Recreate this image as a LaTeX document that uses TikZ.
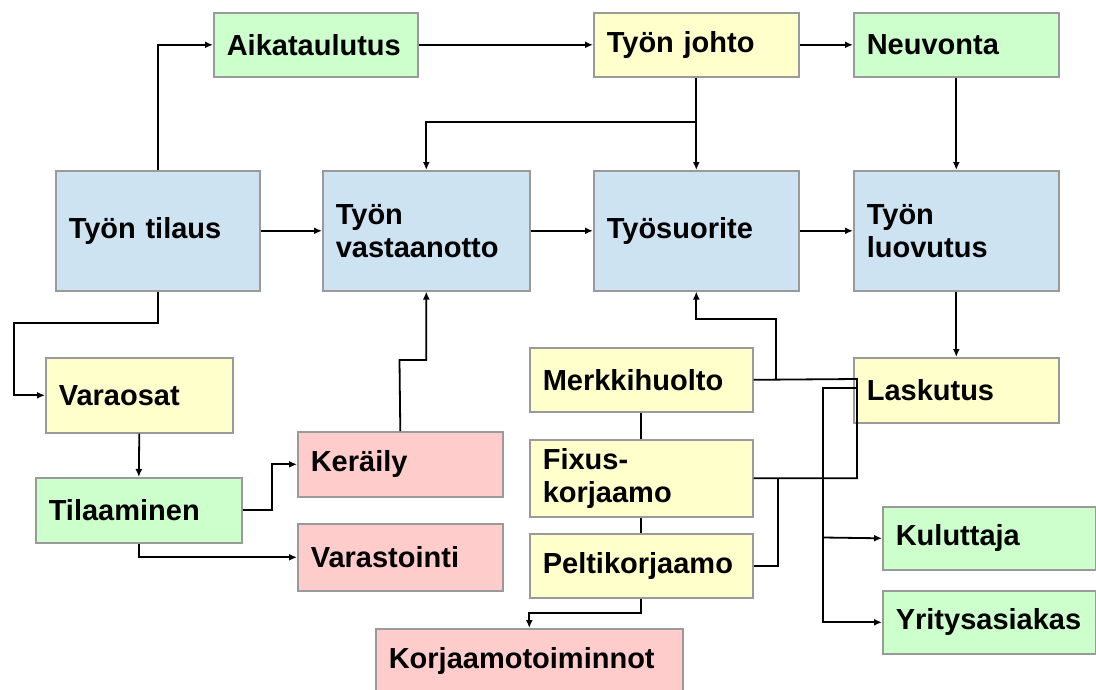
\documentclass[tikz,border=0pt]{standalone}
\usepackage{fontspec}
\setmainfont{Liberation Sans}
\usetikzlibrary{arrows.meta}
\definecolor{cblue}{HTML}{CDE3F2}
\definecolor{cgreen}{HTML}{CCFFCC}
\definecolor{cyellow}{HTML}{FFFFCC}
\definecolor{cpink}{HTML}{FFCCCC}
\definecolor{cborder}{HTML}{9A9A9A}
\begin{document}
\begin{tikzpicture}[x=1pt,y=-1pt,
  box/.style={draw=cborder, line width=1.6pt, anchor=north west, inner xsep=13pt, inner ysep=0pt,
    align=left, font=\fontsize{29}{33}\selectfont\bfseries},
  con/.style={line width=1.8pt, black},
  arr/.style={con, -{Latex[length=8pt,width=7pt]}}]
\useasboundingbox (0,0) rectangle (1096,689);
\clip (0,0) rectangle (1096,689);
% top row
\node[box, fill=cgreen, text width=178pt, minimum height=64pt] (aika) at (213,12) {Aikataulutus};
\node[box, fill=cyellow, text width=179pt, minimum height=64pt] (johto) at (593,12) {Työn johto};
\node[box, fill=cgreen, text width=179pt, minimum height=64pt] (neuv) at (853,12) {Neuvonta};
% main row
\node[box, fill=cblue, text width=178pt, minimum height=120pt] (tilaus) at (55,170) {Työn tilaus};
\node[box, fill=cblue, text width=181pt, minimum height=120pt] (vast) at (322,170) {Työn\\vastaanotto};
\node[box, fill=cblue, text width=179pt, minimum height=120pt] (suor) at (593,170) {Työsuorite};
\node[box, fill=cblue, text width=179pt, minimum height=120pt] (luov) at (853,170) {Työn\\luovutus};
% left column
\node[box, fill=cyellow, text width=161pt, minimum height=75pt] (vara) at (45,357) {Varaosat};
\node[box, fill=cgreen, text width=180pt, minimum height=65pt] (tilaa) at (35,477) {Tilaaminen};
\node[box, fill=cpink, text width=179pt, minimum height=65pt] (kera) at (297,431) {Keräily};
\node[box, fill=cpink, text width=179pt, minimum height=67pt] (varas) at (297,523) {Varastointi};
% middle column
\node[box, fill=cyellow, text width=197pt, minimum height=64pt] (merkki) at (529,347) {Merkkihuolto};
\node[box, fill=cyellow, text width=197pt, minimum height=77pt] (fixus) at (529,439) {Fixus-\\korjaamo};
\node[box, fill=cyellow, text width=197pt, minimum height=64pt] (pelti) at (529,533) {Peltikorjaamo};
\node[box, fill=cpink, text width=281pt, minimum height=64pt] (korj) at (375,628) {Korjaamotoiminnot};
% right column
\node[box, fill=cyellow, text width=179pt, minimum height=65pt] (lask) at (853,357) {Laskutus};
\node[box, fill=cgreen, text width=187pt, minimum height=63pt] (kulu) at (882,506) {Kuluttaja};
\node[box, fill=cgreen, text width=187pt, minimum height=63pt] (yrit) at (882,590) {Yritysasiakas};
% connectors top
\draw[arr] (tilaus.north) |- (aika.west);
\draw[arr] (aika.east) -- (johto.west);
\draw[arr] (johto.east) -- (neuv.west);
\coordinate (j1) at (695.5,122);
\draw[arr] (johto.south) -- (suor.north);
\draw[arr] (j1) -| (vast.north);
\draw[arr] (neuv.south) -- (luov.north);
% main row
\draw[arr] (tilaus.east) -- (vast.west);
\draw[arr] (vast.east) -- (suor.west);
\draw[arr] (suor.east) -- (luov.west);
\draw[arr] (luov.south) -- (lask.north);
% left side
\coordinate (t1) at (14,323);
\draw[arr] (tilaus.south) |- (t1) |- (vara.west);
\draw[arr] (vara.south) -- (tilaa.north);
\draw[arr] (tilaa.east) -- ++(29,0) |- (kera.west);
\draw[arr] (tilaa.south) |- (varas.west);
\coordinate (k1) at (399.5,360);
\draw[arr] (kera.north) -- (k1) -| (vast.south);
% middle
\coordinate (m1) at (776,379);
\coordinate (m2) at (857,379);
\draw[con] (merkki.east) -- (m2) |- (fixus.east);
\draw[arr] (m1) -- (776,319) -| (suor.south);
\draw[con] (pelti.east) -| (778,477.5);
\draw[con] (merkki.south) -- (fixus.north);
\draw[con] (fixus.south) -- (pelti.north);
\draw[arr] (pelti.south) -- ++(0,14) -| (korj.north);
% billing
\coordinate (l1) at (856,388);
\draw[arr] (l1) -- (823,388) |- (yrit.west);
\draw[arr] (823,537.5) -- (kulu.west);
\end{tikzpicture}
\end{document}
